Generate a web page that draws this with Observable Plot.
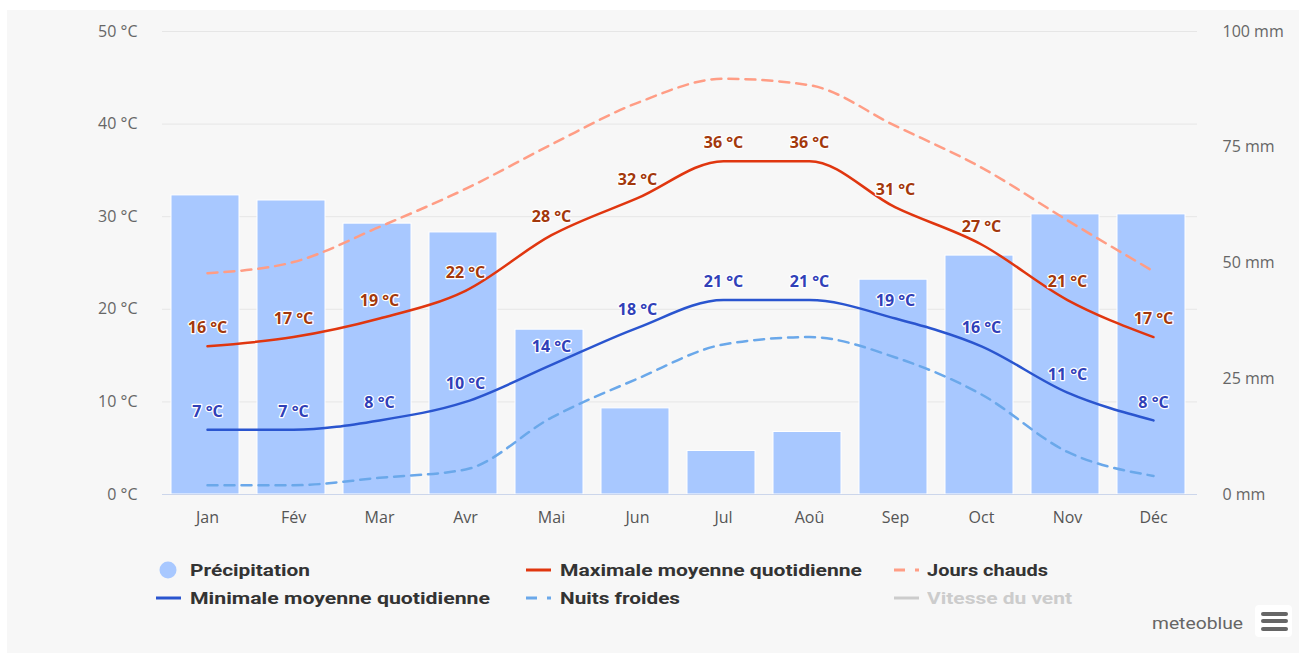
<!DOCTYPE html>
<html>
<head>
<meta charset="utf-8">
<script src="https://cdn.jsdelivr.net/npm/d3@7"></script>
<script src="https://cdn.jsdelivr.net/npm/@observablehq/plot@0.6"></script>
<style>
  html, body { margin: 0; padding: 0; background: #ffffff; }
  #panel { position: absolute; left: 7px; top: 10px; width: 1292px; height: 643px; background: #f7f7f7; }
  #chart { position: absolute; left: 0; top: 0; }
  .leg { position: absolute; font-family: Roboto, "Open Sans", sans-serif; font-weight: 700; font-size: 17px; color: #333; white-space: nowrap; line-height: 20px; transform-origin: 0 50%; }
  .sw { position: absolute; }
  #brand { position: absolute; left: 1152px; top: 613px; font-family: Roboto, sans-serif; font-size: 17px; color: #666; white-space: nowrap; line-height: 20px; transform-origin: 0 50%; }
  #menu { position: absolute; left: 1255px; top: 605px; width: 37px; height: 32px; background: #fff; border-radius: 4px; }
  #menu div { position: absolute; left: 6px; width: 27px; height: 4px; background: #666; border-radius: 2px; }
</style>
</head>
<body>
<div id="panel"></div>
<div id="chart"></div>
<div id="legend"></div>
<script>
// ---- data ----
const months = ["Jan","Fév","Mar","Avr","Mai","Jun","Jul","Aoû","Sep","Oct","Nov","Déc"];
const precipitation = [64.6, 63.5, 58.5, 56.6, 35.6, 18.6, 9.4, 13.5, 46.4, 51.6, 60.5, 60.5]; // mm
const maxTemp = [16, 17, 19, 22, 28, 32, 36, 36, 31, 27, 21, 17];   // °C
const minTemp = [7, 7, 8, 10, 14, 18, 21, 21, 19, 16, 11, 8];       // °C
const hotDays = [23.9, 25.1, 28.9, 33, 37.8, 42.3, 44.9, 44.2, 39.8, 35.3, 29.6, 24.1];   // °C
const coldNights = [1, 1, 1.8, 2.7, 8.3, 12.5, 16.2, 17, 14.8, 10.8, 4.6, 2];              // °C
const tempTicks = [0, 10, 20, 30, 40, 50];
const mmTicks = [0, 25, 50, 75, 100];

const data = months.map((m, i) => ({
  month: m, precip: precipitation[i], max: maxTemp[i], min: minTemp[i],
  hot: hotDays[i], cold: coldNights[i]
}));
// right axis: 100 mm <-> 50 °C
const mmToT = v => v / 2;

const font = "'Open Sans', sans-serif";
const chart = Plot.plot({
  width: 1299,
  height: 530,
  marginLeft: 162,
  marginRight: 102,
  marginTop: 31,
  marginBottom: 36,
  style: { background: "transparent", fontFamily: font, fontSize: "16px", color: "#666", overflow: "visible" },
  x: { domain: months, type: "band", padding: 0 },
  y: { domain: [0, 50] },
  marks: [
    Plot.gridY(tempTicks, { stroke: "#e6e6e6", strokeOpacity: 1 }),
    Plot.axisY(tempTicks, { anchor: "left", tickSize: 0, tickPadding: 25, tickFormat: d => `${d} °C`, fill: "#666", fontSize: 16, label: null }),
    Plot.axisY(mmTicks.map(mmToT), { anchor: "right", tickSize: 0, tickPadding: 25, tickFormat: d => `${d * 2} mm`, fill: "#666", fontSize: 16, label: null }),
    Plot.barY(data, { x: "month", y: d => mmToT(d.precip), fill: "#a8c8ff", stroke: "#ffffff", strokeWidth: 1, insetLeft: 7, insetRight: 11 }),
    Plot.ruleY([0], { stroke: "#ccd6eb", strokeWidth: 1 }),
    Plot.axisX({ tickSize: 0, tickPadding: 17, fill: "#555", fontSize: 16, label: null }),
    Plot.line(data, { x: "month", y: "hot", stroke: "#ff9d85", strokeWidth: 2.5, strokeDasharray: "10,7", curve: "monotone-x" }),
    Plot.line(data, { x: "month", y: "cold", stroke: "#6aa8ea", strokeWidth: 2.5, strokeDasharray: "10,7", curve: "monotone-x" }),
    Plot.line(data, { x: "month", y: "max", stroke: "#e0360f", strokeWidth: 2.5, curve: "monotone-x" }),
    Plot.line(data, { x: "month", y: "min", stroke: "#2a55cf", strokeWidth: 2.5, curve: "monotone-x" }),
    Plot.text(data, { x: "month", y: "max", text: d => `${d.max} °C`, dy: -18, fill: "#a3380c", stroke: "#ffffff", strokeWidth: 2.5, fontWeight: "bold", fontSize: 16, fontFamily: font }),
    Plot.text(data, { x: "month", y: "min", text: d => `${d.min} °C`, dy: -18, fill: "#3040b8", stroke: "#ffffff", strokeWidth: 2.5, fontWeight: "bold", fontSize: 16, fontFamily: font })
  ]
});
document.getElementById("chart").appendChild(chart);

// ---- legend (HTML below the SVG plot area) ----
const legendItems = [
  { label: "Précipitation", kind: "circle", color: "#a8c8ff", sx: 159, tx: 190, cy: 570, w: 120 },
  { label: "Maximale moyenne quotidienne", kind: "line", color: "#e0360f", sx: 526, tx: 560, cy: 570, w: 302 },
  { label: "Jours chauds", kind: "dash", color: "#ff9d85", sx: 894, tx: 927, cy: 570, w: 121 },
  { label: "Minimale moyenne quotidienne", kind: "line", color: "#2a55cf", sx: 156, tx: 190, cy: 598, w: 300 },
  { label: "Nuits froides", kind: "dash", color: "#6aa8ea", sx: 526, tx: 560, cy: 598, w: 120 },
  { label: "Vitesse du vent", kind: "line", color: "#cccccc", sx: 894, tx: 927, cy: 598, w: 145, textColor: "#cccccc" }
];
const legend = document.getElementById("legend");
const canvas = document.createElement("canvas");
const ctx = canvas.getContext("2d");
function fit(el, text, fontSpec, target) {
  ctx.font = fontSpec;
  const w = ctx.measureText(text).width;
  el.style.transform = `scaleX(${target / w})`;
}
for (const it of legendItems) {
  const sw = document.createElementNS("http://www.w3.org/2000/svg", "svg");
  sw.setAttribute("class", "sw");
  sw.setAttribute("width", 26); sw.setAttribute("height", 20);
  sw.style.left = it.sx + "px"; sw.style.top = (it.cy - 10) + "px";
  if (it.kind === "circle") {
    sw.innerHTML = `<circle cx="9" cy="10" r="8.5" fill="${it.color}"/>`;
  } else if (it.kind === "line") {
    sw.innerHTML = `<line x1="0" x2="25" y1="10" y2="10" stroke="${it.color}" stroke-width="3"/>`;
  } else {
    sw.innerHTML = `<line x1="0" x2="25" y1="10" y2="10" stroke="${it.color}" stroke-width="3" stroke-dasharray="11,10"/>`;
  }
  legend.appendChild(sw);
  const t = document.createElement("div");
  t.className = "leg";
  t.textContent = it.label;
  t.style.left = it.tx + "px";
  t.style.top = (it.cy - 10) + "px";
  if (it.textColor) t.style.color = it.textColor;
  legend.appendChild(t);
  fit(t, it.label, "700 17px Roboto", it.w);
}
const brand = document.createElement("div");
brand.id = "brand"; brand.textContent = "meteoblue";
legend.appendChild(brand);
fit(brand, "meteoblue", "400 17px Roboto", 91);
const menu = document.createElement("div");
menu.id = "menu";
menu.innerHTML = `<div style="top:7px"></div><div style="top:14px"></div><div style="top:22px"></div>`;
legend.appendChild(menu);
</script>
</body>
</html>
